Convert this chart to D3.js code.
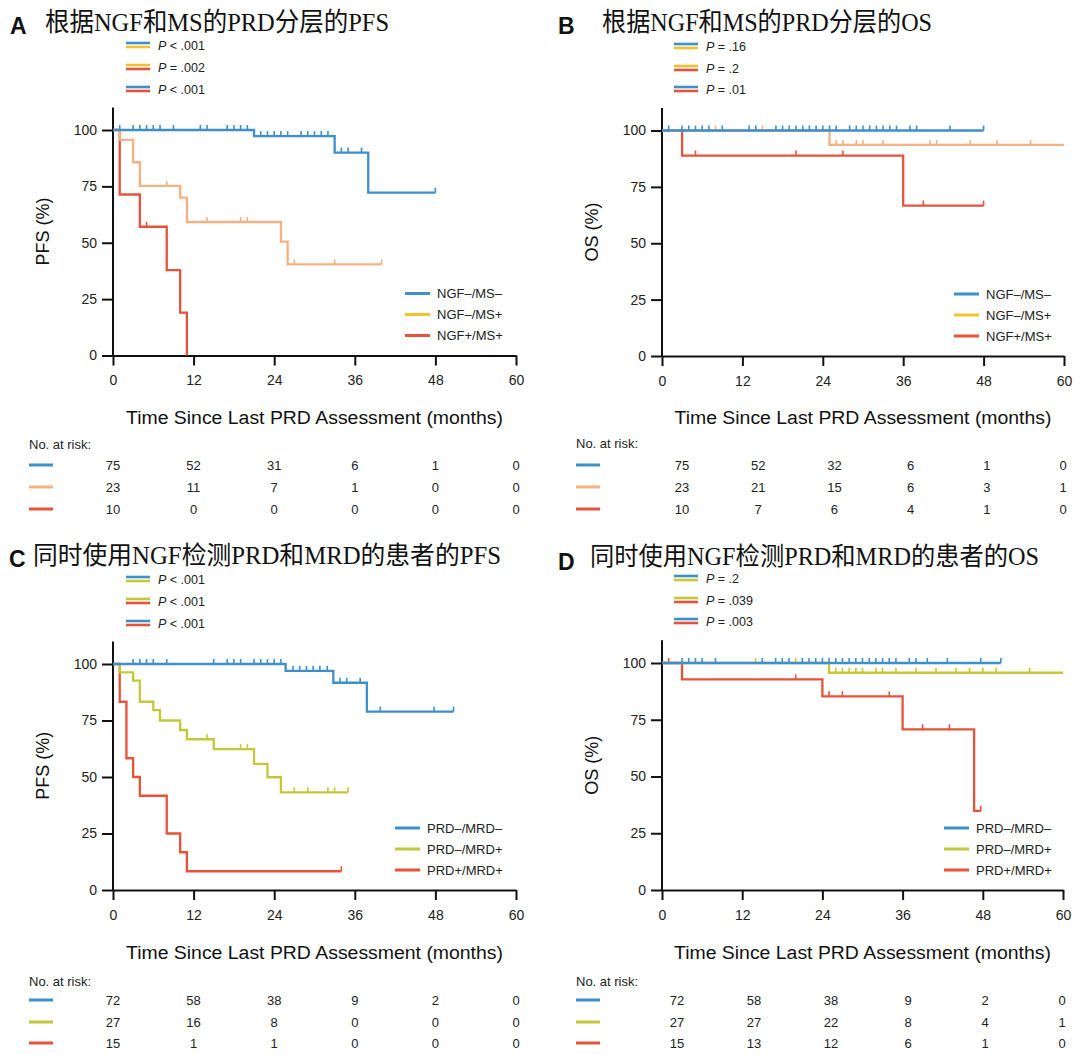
<!DOCTYPE html>
<html><head><meta charset="utf-8">
<script src="https://cdn.jsdelivr.net/npm/d3@7/dist/d3.min.js"></script>
<style>body{margin:0;background:#fff} svg{display:block}</style>
</head><body>
<svg id="chart" width="1080" height="1054"></svg>
<script>
// ---------- DATA ----------
const monthTicks = [0, 12, 24, 36, 48, 60];
const pctTicks = [0, 25, 50, 75, 100];
const xAxisTitle = "Time Since Last PRD Assessment (months)";
const riskTitle = "No. at risk:";

// Panel A: PFS by NGF & MS
const A_title = "根据NGF和MS的PRD分层的PFS";
const A_groups = ["NGF–/MS–", "NGF–/MS+", "NGF+/MS+"];
const A_g1_steps = [[0,100],[21,97.3],[33,90],[38,72.2]];
const A_g1_end = 48;
const A_g1_cens = [1,3,4,5,6,7,9,13,14,17,18,19,20,22,23,24,25,26,28,29,30,31,32,34,35,37,48];
const A_g2_steps = [[0,100],[1,95.6],[3,85.7],[4,75.2],[10,70],[11,59.2],[25,50.5],[26,40.4]];
const A_g2_end = 40;
const A_g2_cens = [8,14,19,20,27,33,40];
const A_g3_steps = [[0,100],[1,71.4],[4,57.1],[8,37.9],[10,19],[11,0]];
const A_g3_end = 11;
const A_g3_cens = [5];
const A_pvals = ["< .001", "= .002", "< .001"];
const A_risk = [[75,52,31,6,1,0],[23,11,7,1,0,0],[10,0,0,0,0,0]];

// Panel B: OS by NGF & MS
const B_title = "根据NGF和MS的PRD分层的OS";
const B_groups = ["NGF–/MS–", "NGF–/MS+", "NGF+/MS+"];
const B_g1_steps = [[0,100]];
const B_g1_end = 48;
const B_g1_cens = [1,3,4,5,6,7,9,13,14,17,18,19,20,21,22,23,24,25,26,28,29,30,31,32,33,34,35,37,38,43,48];
const B_g2_steps = [[0,100],[25,93.6]];
const B_g2_end = 60;
const B_g2_cens = [8,15,26,27,29,30,33,40,41,46,50,55];
const B_g3_steps = [[0,100],[3,88.9],[36,66.7]];
const B_g3_end = 48;
const B_g3_cens = [5,20,27,39,48];
const B_pvals = ["= .16", "= .2", "= .01"];
const B_risk = [[75,52,32,6,1,0],[23,21,15,6,3,1],[10,7,6,4,1,0]];

// Panel C: PFS, PRD & MRD
const C_title = "同时使用NGF检测PRD和MRD的患者的PFS";
const C_groups = ["PRD–/MRD–", "PRD–/MRD+", "PRD+/MRD+"];
const C_g1_steps = [[0,100],[25.7,97],[32.8,91.7],[37.8,78.9]];
const C_g1_end = 50.7;
const C_g1_cens = [3,4,5,6,8,15,17,18,19,21,22,23,24,25,26.8,27.8,28.8,29.8,30.8,31.9,33.8,34.8,36.8,39.8,47.8,50.7];
const C_g2_steps = [[0,100],[1,96.3],[3,92.6],[4,83.3],[6,79.6],[7,75],[10,70.8],[11,66.7],[15,62.3],[21,55.8],[23,49.9],[25,43.2]];
const C_g2_end = 35;
const C_g2_cens = [14,19,20,27,29,32,33,35];
const C_g3_steps = [[0,100],[1,83.3],[2,58.3],[3,50],[4,41.7],[8,25],[10,16.7],[11,8.3]];
const C_g3_end = 34;
const C_g3_cens = [34];
const C_pvals = ["< .001", "< .001", "< .001"];
const C_risk = [[72,58,38,9,2,0],[27,16,8,0,0,0],[15,1,1,0,0,0]];

// Panel D: OS, PRD & MRD
const D_title = "同时使用NGF检测PRD和MRD的患者的OS";
const D_groups = ["PRD–/MRD–", "PRD–/MRD+", "PRD+/MRD+"];
const D_g1_steps = [[0,100]];
const D_g1_end = 50.7;
const D_g1_cens = [3,4,5,6,8,15,17,18,19,21,22,23,24,25,26,27,28,29,30,31,32,33,34,35,37,38,39.7,42.7,47.7,50.7];
const D_g2_steps = [[0,100],[25,95.7]];
const D_g2_end = 60;
const D_g2_cens = [14,20,26,27,28,29,30,32,33,35,38,41,44,46,48,50,55];
const D_g3_steps = [[0,100],[3,92.8],[24,85.3],[36,70.8],[46.7,34.9]];
const D_g3_end = 47.7;
const D_g3_cens = [1,20,25,27,34,39,43,47.7];
const D_pvals = ["= .2", "= .039", "= .003"];
const D_risk = [[72,58,38,9,2,0],[27,27,22,8,4,1],[15,13,12,6,1,0]];

// ---------- STYLE ----------
const BLUE = "#3f8fcb", RED = "#e5533a", PEACH = "#f4b183", YELLOW = "#f2c12e", GREEN = "#c3c73a";
const SANS = "'Liberation Sans', Arial, Helvetica, sans-serif";
const TITLEF = "'Liberation Serif', 'Noto Sans CJK SC', serif";

const panels = [
  { letter:"A", title:A_title, tLen:344, lx:10, tx:45, tb:31, lb:34, tfs:26, yLabel:"PFS (%)",
    x0:113, x1:516, y0:355.5, y100:130, groups:A_groups, pvals:A_pvals, risk:A_risk,
    series:[[A_g1_steps,A_g1_end,A_g1_cens],[A_g2_steps,A_g2_end,A_g2_cens],[A_g3_steps,A_g3_end,A_g3_cens]],
    curveCol:[BLUE,PEACH,RED], legCol:[BLUE,YELLOW,RED], tabCol:[BLUE,PEACH,RED],
    pRows:[45,67,89], pX:126, tabRange:[113,516], tabSw:29, tabBase:[470,492,514], noRiskBase:449, xlabBase:424 },
  { letter:"B", title:B_title, tLen:330, lx:558, tx:602, tb:31, lb:34, tfs:26, yLabel:"OS (%)",
    x0:662, x1:1064, y0:356, y100:130.5, groups:B_groups, pvals:B_pvals, risk:B_risk,
    series:[[B_g1_steps,B_g1_end,B_g1_cens],[B_g2_steps,B_g2_end,B_g2_cens],[B_g3_steps,B_g3_end,B_g3_cens]],
    curveCol:[BLUE,PEACH,RED], legCol:[BLUE,YELLOW,RED], tabCol:[BLUE,PEACH,RED],
    pRows:[46,68,89], pX:674, tabRange:[682,1063], tabSw:576, tabBase:[470,492,514], noRiskBase:448, xlabBase:424 },
  { letter:"C", title:C_title, tLen:468, lx:9, tx:33, tb:564, lb:567, tfs:25, yLabel:"PFS (%)",
    x0:113, x1:516, y0:890, y100:664, groups:C_groups, pvals:C_pvals, risk:C_risk,
    series:[[C_g1_steps,C_g1_end,C_g1_cens],[C_g2_steps,C_g2_end,C_g2_cens],[C_g3_steps,C_g3_end,C_g3_cens]],
    curveCol:[BLUE,GREEN,RED], legCol:[BLUE,GREEN,RED], tabCol:[BLUE,GREEN,RED],
    pRows:[579,601,623], pX:126, tabRange:[113,516], tabSw:29, tabBase:[1005,1027,1048], noRiskBase:986, xlabBase:959 },
  { letter:"D", title:D_title, tLen:449, lx:558, tx:590, tb:565, lb:570, tfs:25, yLabel:"OS (%)",
    x0:662, x1:1063, y0:890, y100:663, groups:D_groups, pvals:D_pvals, risk:D_risk,
    series:[[D_g1_steps,D_g1_end,D_g1_cens],[D_g2_steps,D_g2_end,D_g2_cens],[D_g3_steps,D_g3_end,D_g3_cens]],
    curveCol:[BLUE,GREEN,RED], legCol:[BLUE,GREEN,RED], tabCol:[BLUE,GREEN,RED],
    pRows:[578,600,621], pX:674, tabRange:[677,1062], tabSw:576, tabBase:[1005,1027,1048], noRiskBase:986, xlabBase:959 }
];
const pPairs = [[0,1],[1,2],[0,2]];

const svg = d3.select("#chart");

function survAt(steps, t) {
  let s = steps[0][1];
  for (const [ti, si] of steps) if (ti <= t) s = si;
  return s;
}

panels.forEach(p => {
  const g = svg.append("g");
  const x = d3.scaleLinear().domain([0, 60]).range([p.x0, p.x1]);
  const y = d3.scaleLinear().domain([0, 100]).range([p.y0, p.y100]);

  // Titles
  g.append("text").attr("x", p.lx).attr("y", p.lb).text(p.letter)
    .attr("font-family", SANS).attr("font-weight", "bold").attr("font-size", 23).attr("fill", "#111");
  g.append("text").attr("x", p.tx).attr("y", p.tb).text(p.title)
    .attr("font-family", TITLEF).attr("font-size", p.tfs).attr("fill", "#111")
    .attr("textLength", p.tLen).attr("lengthAdjust", "spacingAndGlyphs");

  // P-value legend
  pPairs.forEach((pr, i) => {
    const cy = p.pRows[i];
    g.append("line").attr("x1", p.pX).attr("x2", p.pX + 24).attr("y1", cy - 2).attr("y2", cy - 2)
      .attr("stroke", p.legCol[pr[0]]).attr("stroke-width", 2.6);
    g.append("line").attr("x1", p.pX).attr("x2", p.pX + 24).attr("y1", cy + 2).attr("y2", cy + 2)
      .attr("stroke", p.legCol[pr[1]]).attr("stroke-width", 2.6);
    const t = g.append("text").attr("x", p.pX + 32).attr("y", cy + 4.5)
      .attr("font-family", SANS).attr("font-size", 12.5).attr("fill", "#222");
    t.append("tspan").attr("font-style", "italic").text("P");
    t.append("tspan").text(" " + p.pvals[i]);
  });

  // Axes
  const ax = g.append("g").attr("transform", `translate(0,${p.y0})`)
    .call(d3.axisBottom(x).tickValues(monthTicks).tickSize(10).tickPadding(10).tickSizeOuter(0));
  const ay = g.append("g").attr("transform", `translate(${p.x0},0)`)
    .call(d3.axisLeft(y).tickValues(pctTicks).tickSize(11).tickPadding(5).tickSizeOuter(0));
  ay.select(".domain").attr("d", `M0,${y(0)}V${y(110)}`);
  [ax, ay].forEach(a => {
    a.selectAll("path,line").attr("stroke", "#111").attr("stroke-width", 2);
    a.selectAll("text").attr("font-family", SANS).attr("font-size", 14).attr("fill", "#222");
  });

  // Axis titles
  g.append("text").attr("transform", `translate(${p.x0 - 64},${(y(0) + y(110)) / 2}) rotate(-90)`)
    .attr("text-anchor", "middle").attr("font-family", SANS).attr("font-size", 18).attr("fill", "#111")
    .text(p.yLabel);
  g.append("text").attr("x", (p.x0 + p.x1) / 2).attr("y", p.xlabBase).attr("text-anchor", "middle")
    .attr("font-family", SANS).attr("font-size", 18).attr("fill", "#111")
    .attr("textLength", 377).attr("lengthAdjust", "spacingAndGlyphs").text(xAxisTitle);

  // Curves (draw last group first so blue is on top)
  const line = d3.line().x(d => x(d[0])).y(d => y(d[1])).curve(d3.curveStepAfter);
  for (let i = p.series.length - 1; i >= 0; i--) {
    const [steps, end, cens] = p.series[i];
    const pts = steps.concat([[end, steps[steps.length - 1][1]]]);
    g.append("path").attr("d", line(pts)).attr("fill", "none")
      .attr("stroke", p.curveCol[i]).attr("stroke-width", 2.3);
    g.selectAll(null).data(cens).enter().append("line")
      .attr("x1", d => x(d)).attr("x2", d => x(d))
      .attr("y1", d => y(survAt(steps, d))).attr("y2", d => y(survAt(steps, d)) - 5)
      .attr("stroke", p.curveCol[i]).attr("stroke-width", 1.6);
  }

  // In-plot legend
  p.groups.forEach((name, i) => {
    const cy = p.y0 - 62 + i * 21;
    const lx = p.x0 + (p.letter === "A" || p.letter === "B" ? 292 : 282);
    g.append("line").attr("x1", lx).attr("x2", lx + 25).attr("y1", cy).attr("y2", cy)
      .attr("stroke", p.legCol[i]).attr("stroke-width", 3);
    g.append("text").attr("x", lx + 32).attr("y", cy + 4.5).text(name)
      .attr("font-family", SANS).attr("font-size", 13).attr("fill", "#222");
  });

  // Number at risk table
  const tx = d3.scaleLinear().domain([0, 60]).range(p.tabRange);
  g.append("text").attr("x", p.tabSw).attr("y", p.noRiskBase).text(riskTitle)
    .attr("font-family", SANS).attr("font-size", 13).attr("fill", "#222");
  p.risk.forEach((row, i) => {
    const b = p.tabBase[i];
    g.append("line").attr("x1", p.tabSw).attr("x2", p.tabSw + 24).attr("y1", b - 5).attr("y2", b - 5)
      .attr("stroke", p.tabCol[i]).attr("stroke-width", 3);
    g.selectAll(null).data(row).enter().append("text")
      .attr("x", (d, j) => tx(monthTicks[j])).attr("y", b).attr("text-anchor", "middle")
      .attr("font-family", SANS).attr("font-size", 13).attr("fill", "#222").text(d => d);
  });
});
</script>
</body></html>
